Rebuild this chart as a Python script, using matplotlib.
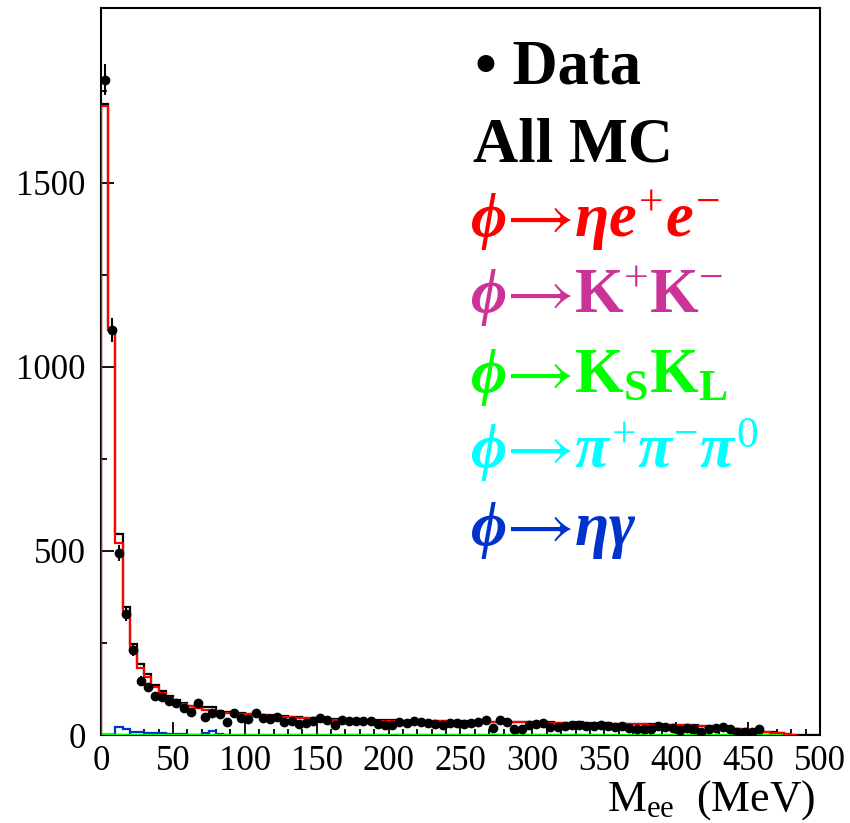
import numpy as np
import matplotlib
matplotlib.use("Agg")
import matplotlib.pyplot as plt
from matplotlib.ticker import MultipleLocator

plt.rcParams['font.family'] = ['Liberation Serif', 'DejaVu Serif']
plt.rcParams['mathtext.fontset'] = 'custom'
plt.rcParams['mathtext.rm'] = 'Liberation Serif'
plt.rcParams['mathtext.it'] = 'Liberation Serif:bold:italic'
plt.rcParams['mathtext.bf'] = 'Liberation Serif:bold'
plt.rcParams['mathtext.sf'] = 'STIXGeneral'
plt.rcParams['mathtext.fallback'] = 'stix'

# 5 MeV bins from 0 to 500 MeV
bin_edges = np.arange(0, 505, 5)

data = [1780, 1100, 495, 329, 231, 148, 130, 107, 104, 93,
        86, 73, 63, 86, 48, 59, 57, 36, 59, 45,
        43, 59, 45, 43, 48, 36, 38, 30, 32, 38,
        45, 41, 27, 41, 39, 39, 38, 37, 30, 27,
        27, 36, 33, 39, 34, 32, 29, 26, 32, 33,
        30, 33, 34, 41, 20, 41, 34, 15, 15, 27,
        30, 32, 21, 21, 24, 27, 27, 24, 24, 26,
        24, 23, 24, 18, 15, 15, 17, 24, 21, 18,
        14, 18, 15, 9, 15, 18, 21, 15, 9, 9,
        9, 15, 0, 0, 0, 0, 0, 0, 0, 0]

eta_ee = [1710, 1100, 522, 331, 236, 182, 158, 130, 113, 100,
          91, 85, 78, 72, 68, 66, 63, 61, 59, 58,
          56, 55, 53, 52, 51, 50, 48, 47, 46, 45,
          44, 43, 42, 42, 41, 41, 40, 40, 39, 39,
          39, 38, 38, 38, 37, 37, 37, 37, 36, 36,
          36, 36, 35, 35, 35, 35, 34, 34, 34, 34,
          33, 33, 33, 32, 32, 32, 32, 31, 31, 31,
          31, 30, 30, 30, 29, 29, 28, 28, 27, 27,
          26, 26, 25, 24, 23, 22, 20, 18, 15, 14,
          12, 10, 7, 6, 5, 3, 1, 0, 0, 0]

kpkm = [0, 0, 0, 0, 0, 0, 0, 0, 0, 0,
        0, 0, 0, 0, 0, 0, 0, 0, 0, 0,
        0, 0, 0, 0, 0, 0, 0, 0, 0, 0,
        0, 0, 0, 0, 0, 0, 0, 0, 0, 0,
        0, 0, 0, 0, 0, 0, 0, 0, 0, 0,
        0, 0, 0, 0, 0, 0, 0, 0, 0, 0,
        0, 0, 0, 0, 0, 0, 1, 1, 1, 0,
        0, 0, 0, 0, 0, 0, 0, 0, 0, 0,
        0, 0, 0, 0, 0, 0, 0, 0, 0, 0,
        0, 0, 0, 0, 0, 0, 0, 0, 0, 0]

kskl = [1, 1, 1, 1, 1, 1, 1, 1, 1, 1,
        1, 1, 1, 1, 1, 1, 1, 1, 1, 1,
        1, 1, 1, 1, 1, 1, 1, 1, 1, 1,
        1, 1, 1, 1, 1, 1, 1, 1, 1, 1,
        1, 1, 1, 1, 1, 1, 1, 1, 1, 1,
        1, 1, 1, 1, 1, 1, 1, 1, 1, 1,
        1, 1, 1, 1, 1, 1, 1, 1, 1, 1,
        1, 1, 1, 1, 1, 1, 1, 1, 1, 1,
        1, 1, 1, 1, 1, 1, 1, 1, 1, 1,
        1, 1, 1, 1, 1, 0, 0, 0, 0, 0]

pipipi = [3, 2, 0, 0, 0, 0, 0, 0, 0, 0,
          0, 0, 0, 0, 0, 0, 0, 0, 0, 0,
          0, 0, 0, 0, 0, 0, 0, 0, 0, 0,
          0, 0, 0, 0, 0, 0, 0, 0, 0, 0,
          0, 0, 0, 0, 0, 0, 0, 0, 0, 0,
          0, 0, 0, 0, 0, 0, 0, 0, 0, 0,
          0, 0, 0, 0, 0, 0, 0, 0, 0, 0,
          0, 0, 0, 0, 0, 0, 0, 0, 0, 0,
          0, 0, 0, 0, 0, 0, 0, 0, 0, 0,
          0, 0, 0, 0, 0, 0, 0, 0, 0, 0]

eta_gamma = [0, 0, 23, 17, 9, 9, 6, 6, 5, 4,
             2, 2, 1, 1, 6, 10, 2, 1, 0, 0,
             0, 0, 0, 0, 0, 0, 0, 0, 0, 0,
             0, 0, 0, 0, 0, 0, 0, 0, 0, 0,
             0, 0, 0, 0, 0, 0, 0, 0, 0, 0,
             0, 0, 0, 0, 0, 0, 0, 0, 0, 0,
             0, 0, 0, 0, 0, 0, 0, 0, 0, 0,
             0, 0, 0, 0, 0, 0, 0, 0, 0, 0,
             0, 0, 0, 0, 0, 0, 0, 0, 0, 0,
             0, 0, 0, 0, 0, 0, 0, 0, 0, 0]

x_ticks = [0, 50, 100, 150, 200, 250, 300, 350, 400, 450, 500]
y_ticks = [0, 500, 1000, 1500]

ARROW = r"\mathsf{-}\!\!\!\!\mathsf{→}"
legend_labels = ["\u2022 Data", "All MC",
                 r"$\phi" + ARROW + r"\eta e^{+}e^{-}$",
                 r"$\phi" + ARROW + r"\mathbf{K}^{+}\mathbf{K}^{-}$",
                 r"$\phi" + ARROW + r"\mathbf{K}_{\mathbf{S}}\mathbf{K}_{\mathbf{L}}$",
                 r"$\phi" + ARROW + r"\pi^{+}\pi^{-}\pi^{0}$",
                 r"$\phi" + ARROW + r"\eta\gamma$"]
legend_colors = ["black", "black", "#ff0000", "#cc3399", "#00ff00", "#00ffff", "#0033cc"]

W, H = 850, 823
fig = plt.figure(figsize=(W / 100, H / 100), dpi=100)
ax = fig.add_axes([101 / W, 1 - 735 / H, (820 - 101) / W, (735 - 8) / H])

edges = np.asarray(bin_edges, dtype=float)
comps = [np.asarray(v, dtype=float) for v in (eta_ee, kpkm, kskl, pipipi, eta_gamma)]
all_mc = np.sum(comps, axis=0)


def draw_hist(vals, color, z):
    vals = np.asarray(vals, dtype=float)
    nz = np.nonzero(vals)[0]
    n = nz[-1] + 1 if len(nz) else len(vals)
    ax.stairs(vals[:n], edges[:n + 1], color=color, lw=1.6, zorder=z)


ax.stairs(all_mc, edges, color="black", lw=1.6, zorder=3)
draw_hist(pipipi, "#00ffff", 3.1)
draw_hist(kpkm, "#cc3399", 3.2)
draw_hist(eta_gamma, "#0033cc", 3.3)
draw_hist(kskl, "#00ff00", 3.4)
draw_hist(eta_ee, "#ff0000", 3.5)

centers = 0.5 * (edges[:-1] + edges[1:])
d = np.asarray(data, dtype=float)
m = d > 0
ax.errorbar(centers[m], d[m], yerr=np.sqrt(d[m]), fmt="o", color="black",
            ms=6, elinewidth=1.5, capsize=0, zorder=5)

ax.set_xlim(0, 500)
ax.set_ylim(0, 1975)
ax.set_xticks(x_ticks)
ax.set_yticks(y_ticks)
ax.xaxis.set_minor_locator(MultipleLocator(10))
ax.yaxis.set_minor_locator(MultipleLocator(250))
ax.tick_params(which="both", direction="in", top=False, right=False,
               width=1.3, labelsize=25)
ax.tick_params(which="major", length=9.5)
ax.tick_params(which="minor", length=4.5)
ax.tick_params(axis="x", pad=7)
ax.tick_params(axis="y", pad=11)
for s in ax.spines.values():
    s.set_linewidth(1.5)

fig.text(815 / W, 1 - 811 / H, r"M$_{\rm ee}$  (MeV)", fontsize=31.5,
         ha="right", va="baseline")

baselines = [84, 161, 237, 313, 392, 468, 545]
xs = [475, 473, 470, 470, 470, 470, 470]
for lab, col, yb, xb in zip(legend_labels, legend_colors, baselines, xs):
    fig.text(xb / W, 1 - yb / H, lab, fontsize=45, color=col,
             fontweight="bold", ha="left", va="baseline")

fig.savefig("out.png", dpi=100)
